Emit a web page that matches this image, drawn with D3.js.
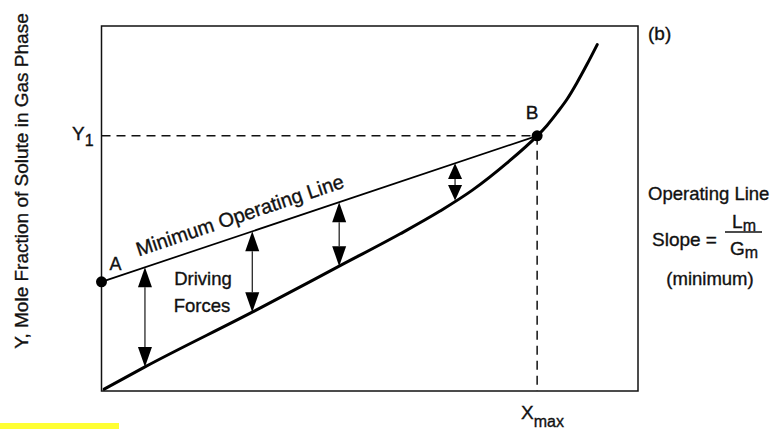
<!DOCTYPE html>
<html>
<head>
<meta charset="utf-8">
<script src="https://cdn.jsdelivr.net/npm/d3@7"></script>
<style>
  html, body { margin: 0; padding: 0; background: #fff; }
  svg { display: block; font-family: "Liberation Sans", Arial, Helvetica, sans-serif; }
  svg text { fill: #111; stroke: #111; stroke-width: 0.35px; }
</style>
</head>
<body>
<svg id="chart" width="777" height="429"></svg>
<script>
// ---- data (mole fractions, normalised 0..1) ----
const equilibriumX = [0.005, 0.081, 0.281, 0.443, 0.556, 0.631, 0.692, 0.756, 0.812, 0.830, 0.849, 0.868, 0.886, 0.905, 0.924];
const equilibriumY = [0.005, 0.066, 0.216, 0.342, 0.430, 0.493, 0.551, 0.625, 0.699, 0.727, 0.762, 0.800, 0.844, 0.895, 0.949];
const operatingX = [0.0, 0.812];   // A, B
const operatingY = [0.299, 0.699]; // A, B
const pointLabels = ["A", "B"];
const forceX = [0.081, 0.281, 0.443, 0.659];
const forceYLow = [0.066, 0.216, 0.342, 0.522];
const Y1 = 0.699;
const Xmax = 0.812;

const svg = d3.select("#chart");
const plot = { left: 101.5, right: 638, top: 26, bottom: 391 };

const x = d3.scaleLinear().domain([0, 1]).range([plot.left, plot.right]);
const y = d3.scaleLinear().domain([0, 1]).range([plot.bottom, plot.top]);

// yellow highlight mark bottom-left
svg.append("rect").attr("x", 0).attr("y", 423).attr("width", 119).attr("height", 6).attr("fill", "#ffff33");

// frame
svg.append("rect")
  .attr("x", x(0)).attr("y", y(1))
  .attr("width", x(1) - x(0)).attr("height", y(0) - y(1))
  .attr("fill", "none").attr("stroke", "#111").attr("stroke-width", 1.5);

// dashed guide lines
svg.append("line")
  .attr("x1", x(0)).attr("x2", x(Xmax)).attr("y1", y(Y1)).attr("y2", y(Y1))
  .attr("stroke", "#111").attr("stroke-width", 1.5).attr("stroke-dasharray", "9,6");
svg.append("line")
  .attr("x1", x(Xmax)).attr("x2", x(Xmax)).attr("y1", y(Y1)).attr("y2", y(0))
  .attr("stroke", "#111").attr("stroke-width", 1.5).attr("stroke-dasharray", "9,6");

// equilibrium curve
const eqData = equilibriumX.map((v, i) => [v, equilibriumY[i]]);
svg.append("path")
  .datum(eqData)
  .attr("d", d3.line().x(d => x(d[0])).y(d => y(d[1])).curve(d3.curveMonotoneX))
  .attr("fill", "none").attr("stroke", "#000").attr("stroke-width", 3)
  .attr("stroke-linecap", "round");

// operating line
const opData = operatingX.map((v, i) => [v, operatingY[i]]);
svg.append("path")
  .datum(opData)
  .attr("d", d3.line().x(d => x(d[0])).y(d => y(d[1])))
  .attr("fill", "none").attr("stroke", "#000").attr("stroke-width", 1.7);

// points A, B
svg.selectAll("circle.pt").data(opData).join("circle")
  .attr("class", "pt")
  .attr("cx", d => x(d[0])).attr("cy", d => y(d[1])).attr("r", 5.5).attr("fill", "#000");

// driving-force arrows
const opAt = v => operatingY[0] + (operatingY[1] - operatingY[0]) * (v - operatingX[0]) / (operatingX[1] - operatingX[0]);
const headH = 20, headW = 14;
forceX.forEach((fx, i) => {
  const px = x(fx);
  const yTop = y(opAt(fx));
  const yBot = y(forceYLow[i]);
  const hh = Math.min(headH, (yBot - yTop) * 0.42);
  svg.append("line")
    .attr("x1", px).attr("x2", px).attr("y1", yTop + hh).attr("y2", yBot - hh)
    .attr("stroke", "#000").attr("stroke-width", 1.1);
  svg.append("path")
    .attr("d", `M${px},${yTop} L${px - headW / 2},${yTop + hh} L${px + headW / 2},${yTop + hh} Z`)
    .attr("fill", "#000");
  svg.append("path")
    .attr("d", `M${px},${yBot} L${px - headW / 2},${yBot - hh} L${px + headW / 2},${yBot - hh} Z`)
    .attr("fill", "#000");
});

// ---- text ----
const txt = (tx, ty, s, size, anchor) =>
  svg.append("text").attr("x", tx).attr("y", ty).attr("font-size", size)
    .attr("text-anchor", anchor || "start").attr("dominant-baseline", "central").text(s);

// point labels
txt(x(operatingX[0]) + 14, y(operatingY[0]) - 18, pointLabels[0], 18, "middle");
txt(x(operatingX[1]) - 5, y(operatingY[1]) - 23, pointLabels[1], 19, "middle");

// Y1 label
const y1t = svg.append("text").attr("x", 72).attr("y", y(Y1) - 3).attr("font-size", 19)
  .attr("dominant-baseline", "central");
y1t.append("tspan").text("Y");
y1t.append("tspan").attr("font-size", 16).attr("dy", 7).text("1");

// Xmax label
const xmt = svg.append("text").attr("x", 521).attr("y", 412).attr("font-size", 19)
  .attr("dominant-baseline", "central");
xmt.append("tspan").text("X");
xmt.append("tspan").attr("font-size", 16).attr("dy", 9).text("max");

// y-axis title
svg.append("text")
  .attr("transform", "translate(21,181) rotate(-90)")
  .attr("text-anchor", "middle").attr("dominant-baseline", "central")
  .attr("font-size", 19)
  .text("Y, Mole Fraction of Solute in Gas Phase");

// minimum operating line label, parallel to the line
const ang = Math.atan2(y(operatingY[1]) - y(operatingY[0]), x(operatingX[1]) - x(operatingX[0])) * 180 / Math.PI;
const lx = 242;
const ly = y(opAt(x.invert(lx))) - 13;
svg.append("text")
  .attr("transform", `translate(${lx},${ly}) rotate(${ang})`)
  .attr("text-anchor", "middle").attr("font-size", 20)
  .text("Minimum Operating Line");

// driving forces
txt(203, 278, "Driving", 18.5, "middle");
txt(202, 305, "Forces", 18.5, "middle");

// right side annotations
txt(648, 33, "(b)", 19);
txt(648, 193, "Operating Line", 18.5);
txt(652, 239, "Slope =", 19);
const lm = svg.append("text").attr("x", 744).attr("y", 221).attr("font-size", 19)
  .attr("text-anchor", "middle").attr("dominant-baseline", "central");
lm.append("tspan").text("L");
lm.append("tspan").attr("font-size", 16).attr("dy", 4).text("m");
svg.append("line").attr("x1", 725).attr("x2", 762).attr("y1", 232).attr("y2", 232)
  .attr("stroke", "#111").attr("stroke-width", 1.4);
const gm = svg.append("text").attr("x", 744).attr("y", 248).attr("font-size", 19)
  .attr("text-anchor", "middle").attr("dominant-baseline", "central");
gm.append("tspan").text("G");
gm.append("tspan").attr("font-size", 16).attr("dy", 4).text("m");
txt(710, 278, "(minimum)", 18.5, "middle");
</script>
</body>
</html>
